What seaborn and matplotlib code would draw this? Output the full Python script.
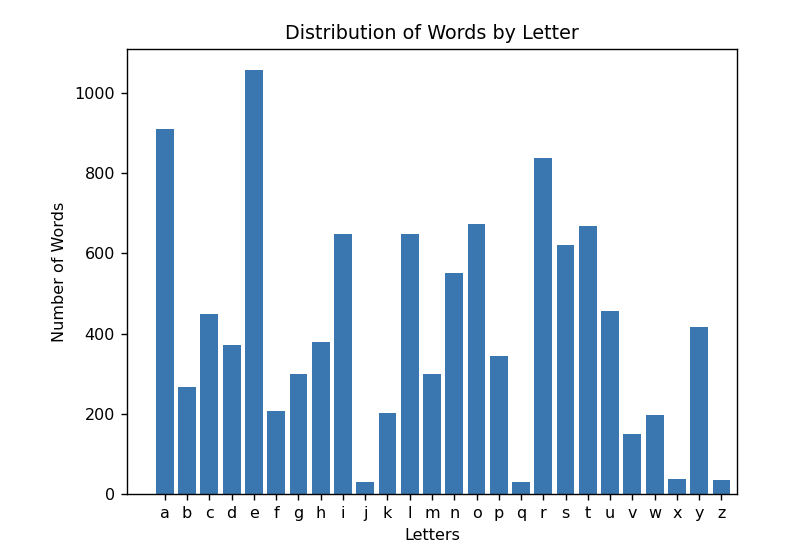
import pandas as pd
import matplotlib
matplotlib.use("Agg")
import matplotlib.pyplot as plt
import seaborn as sns

letters = list("abcdefghijklmnopqrstuvwxyz")
counts = [910, 267, 449, 372, 1057, 208, 300, 379, 648, 29, 202, 648, 300,
          551, 674, 345, 29, 839, 620, 669, 457, 150, 196, 38, 417, 35]

df = pd.DataFrame({'letter': letters, 'count': counts})

plt.rcParams['font.size'] = 9.2

fig, ax = plt.subplots(figsize=(6.4, 4.408), dpi=125)
fig.subplots_adjust(left=0.159, right=0.921, top=0.911, bottom=0.1034)

sns.barplot(data=df, x='letter', y='count', order=letters,
            color='#3a76b0', saturation=1, width=0.8, linewidth=0, ax=ax)
ax.set_xlim(-1.69, 25.69)
ax.set_ylim(0, 1110)
ax.set_title('Distribution of Words by Letter', fontsize=11.05)
ax.set_xlabel('Letters')
ax.set_ylabel('Number of Words')
fig.savefig('out.png', dpi=125)
